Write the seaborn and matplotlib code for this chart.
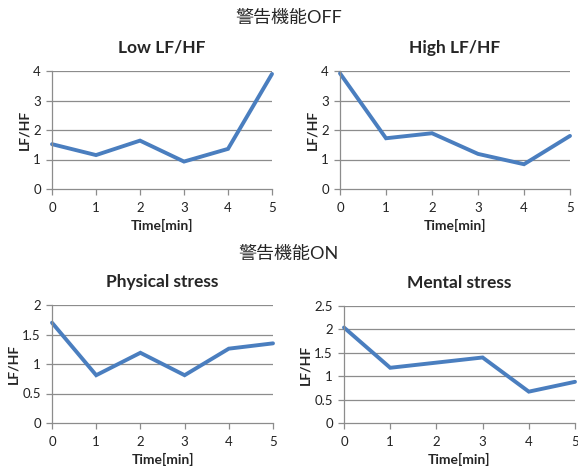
import matplotlib
matplotlib.use("Agg")
import matplotlib.pyplot as plt
import seaborn as sns
import pandas as pd

time_min = [0, 1, 2, 3, 4, 5]
low_lfhf = [1.52, 1.15, 1.64, 0.93, 1.36, 3.9]
high_lfhf = [3.92, 1.72, 1.89, 1.19, 0.84, 1.8]
physical_stress = [1.70, 0.81, 1.19, 0.81, 1.26, 1.35]
mental_stress = [2.04, 1.18, 1.29, 1.40, 0.67, 0.88]

titles = ["Low LF/HF", "High LF/HF", "Physical stress", "Mental stress"]
series = [low_lfhf, high_lfhf, physical_stress, mental_stress]
y_limits = [(0, 4), (0, 4), (0, 2), (0, 2.5)]
y_ticks = [[0, 1, 2, 3, 4], [0, 1, 2, 3, 4], [0, 0.5, 1, 1.5, 2], [0, 0.5, 1, 1.5, 2, 2.5]]
y_ticklabels = [["0", "1", "2", "3", "4"], ["0", "1", "2", "3", "4"],
                ["0", "0.5", "1", "1.5", "2"], ["0", "0.5", "1", "1.5", "2", "2.5"]]
group_titles = ["警告機能OFF", "警告機能ON"]

sns.set_style("white")
plt.rcParams['font.family'] = ['Lato', 'Noto Sans CJK JP', 'DejaVu Sans']

W, H = 578, 468
fig = plt.figure(figsize=(W / 100, H / 100), dpi=100)

# axes boxes in pixels: (left, top, right, bottom)
boxes = [(52, 71, 272, 189), (340, 71, 570, 189), (52, 305, 273, 423), (344, 306, 575, 423)]

line_color = "#4A7EBF"
grid_color = "#8C8C8C"

for box, title, vals, yl, yt, ytl in zip(boxes, titles, series, y_limits, y_ticks, y_ticklabels):
    l, t, r, b = box
    ax = fig.add_axes([l / W, 1 - b / H, (r - l) / W, (b - t) / H])
    df = pd.DataFrame({"Time[min]": time_min, "LF/HF": vals})
    sns.lineplot(data=df, x="Time[min]", y="LF/HF", ax=ax, color=line_color,
                 linewidth=2.8, solid_joinstyle="miter", clip_on=False)
    ax.set_xlim(0, 5)
    ax.set_ylim(*yl)
    ax.set_yticks(yt)
    ax.set_yticklabels(ytl)
    ax.set_xticks(time_min)
    ax.set_xticklabels([str(v) for v in time_min])
    for y in yt[1:]:
        ax.axhline(y, color=grid_color, linewidth=0.9, zorder=0)
    for s in ["top", "right"]:
        ax.spines[s].set_visible(False)
    for s in ["left", "bottom"]:
        ax.spines[s].set_color(grid_color)
        ax.spines[s].set_linewidth(0.9)
    ax.tick_params(axis="both", direction="out", length=4, width=0.9, color=grid_color,
                   labelsize=9.5, labelcolor="#222222", pad=4, left=True, bottom=True)
    ax.tick_params(axis="x", pad=5)
    ax.set_xlabel("Time[min]", fontsize=10, fontweight="bold", labelpad=4)
    ax.set_ylabel("LF/HF", fontsize=10, fontweight="bold", labelpad=2)
    ax.set_title(title, fontsize=12.5, fontweight="bold", pad=13)

fig.text(0.5, 1 - 18 / H, group_titles[0], ha="center", va="center", fontsize=13)
fig.text(0.5, 1 - 254 / H, group_titles[1], ha="center", va="center", fontsize=13)

fig.savefig("out.png", dpi=100, facecolor="white")
